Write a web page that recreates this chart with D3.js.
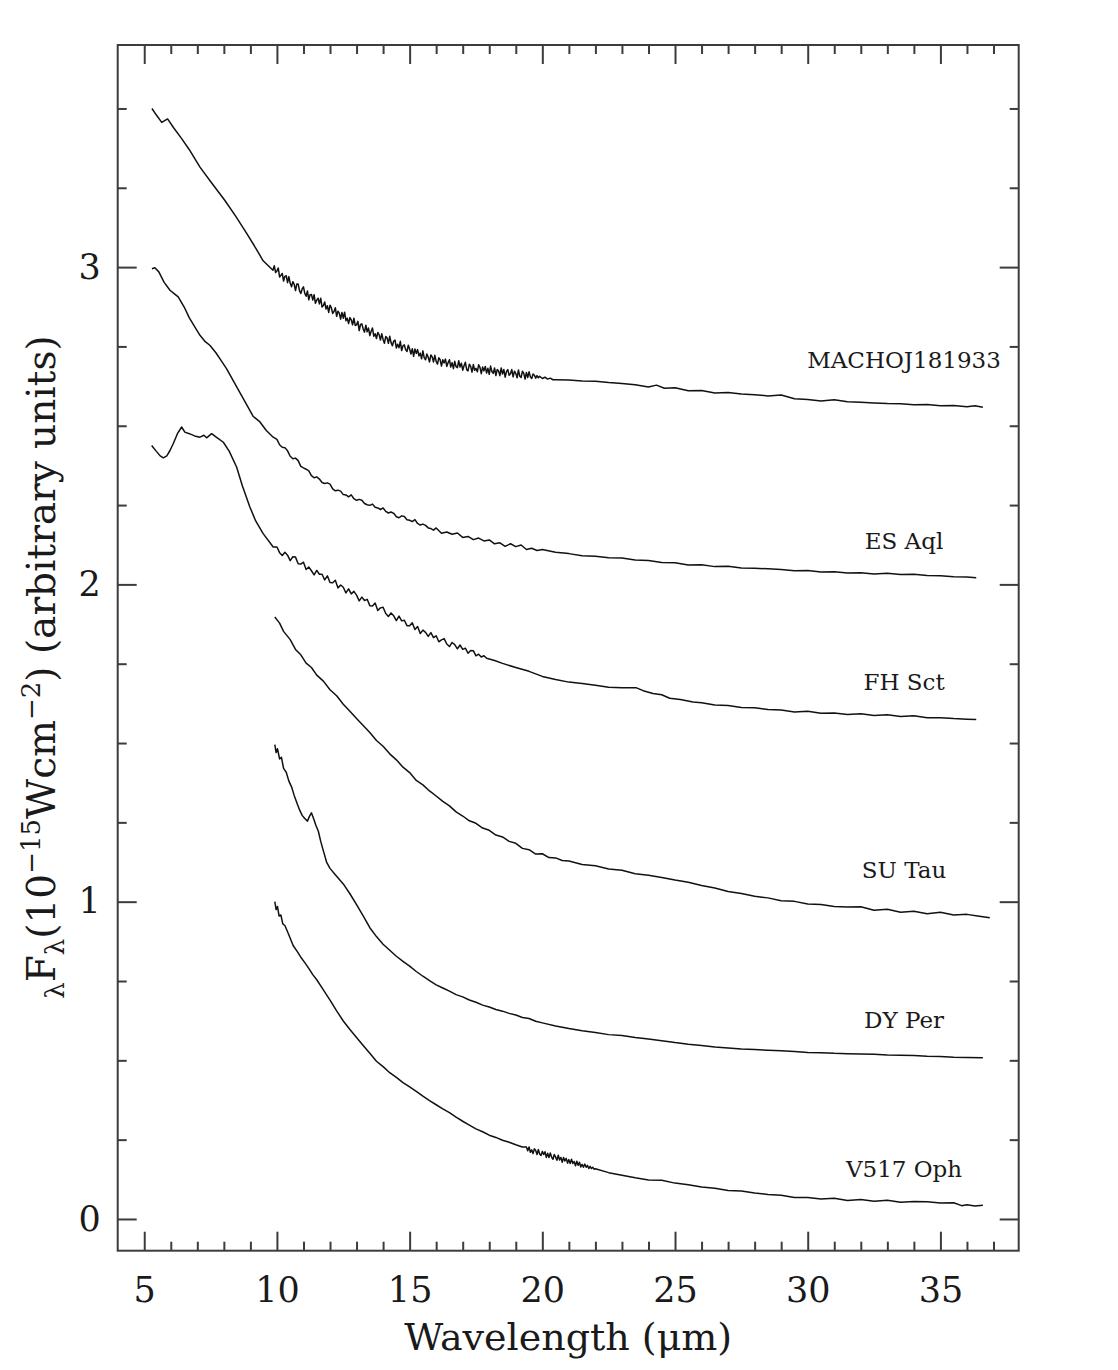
<!DOCTYPE html>
<html><head><meta charset="utf-8">
<script src="https://cdn.jsdelivr.net/npm/d3@7"></script>
<style>html,body{margin:0;padding:0;background:#fff;} svg{display:block;}</style>
</head><body>
<svg id="chart" width="1118" height="1370"></svg>
<script>
// ---------------- DATA ----------------
const seriesNames = ["MACHOJ181933", "ES Aql", "FH Sct", "SU Tau", "DY Per", "V517 Oph"];
// label anchor positions in data units [wavelength, flux]
const labelAnchors = [[33.63, 2.682], [33.63, 2.110], [33.63, 1.667], [33.63, 1.074], [33.63, 0.603], [33.63, 0.133]];

const xTickValues = [5, 10, 15, 20, 25, 30, 35];
const xTickLabels = ["5", "10", "15", "20", "25", "30", "35"];
const yTickValues = [0, 1, 2, 3];
const yTickLabels = ["0", "1", "2", "3"];

const machoData = [
[5.29,3.500],[5.45,3.480],[5.66,3.456],[5.88,3.467],[6.1,3.440],[6.41,3.405],[6.7,3.370],[7.1,3.315],[7.5,3.270],[8.04,3.210],[8.45,3.160],[8.86,3.106],[9.2,3.060],[9.48,3.020],[9.85,2.990],
[9.9,3.004],[9.95,2.983],[10.0,2.988],[10.05,2.997],[10.1,2.969],[10.15,2.974],[10.2,2.980],[10.25,2.956],[10.3,2.971],[10.35,2.973],
[10.4,2.951],[10.45,2.970],[10.5,2.949],[10.55,2.938],[10.6,2.954],[10.65,2.946],[10.7,2.926],[10.75,2.947],[10.8,2.947],[10.85,2.926],
[10.9,2.917],[10.95,2.931],[11.0,2.938],[11.05,2.917],[11.1,2.908],[11.15,2.925],[11.2,2.897],[11.25,2.913],[11.3,2.914],[11.35,2.896],
[11.4,2.913],[11.45,2.886],[11.5,2.896],[11.55,2.902],[11.6,2.884],[11.65,2.902],[11.7,2.874],[11.75,2.879],[11.8,2.890],[11.85,2.868],
[11.9,2.878],[11.95,2.857],[12.0,2.880],[12.05,2.872],[12.1,2.854],[12.15,2.860],[12.2,2.872],[12.25,2.845],[12.3,2.861],[12.35,2.855],
[12.4,2.836],[12.45,2.857],[12.5,2.839],[12.55,2.858],[12.6,2.831],[12.65,2.839],[12.7,2.822],[12.75,2.841],[12.8,2.834],[12.85,2.818],
[12.9,2.839],[12.95,2.816],[13.0,2.818],[13.05,2.829],[13.1,2.800],[13.15,2.819],[13.2,2.821],[13.25,2.805],[13.3,2.795],[13.35,2.817],
[13.4,2.796],[13.45,2.808],[13.5,2.784],[13.55,2.798],[13.6,2.808],[13.65,2.782],[13.7,2.790],[13.75,2.775],[13.8,2.794],[13.85,2.787],
[13.9,2.770],[13.95,2.790],[14.0,2.772],[14.05,2.760],[14.1,2.781],[14.15,2.777],[14.2,2.760],[14.25,2.782],[14.3,2.762],[14.35,2.752],
[14.4,2.767],[14.45,2.770],[14.5,2.745],[14.55,2.757],[14.6,2.746],[14.65,2.766],[14.7,2.737],[14.75,2.752],[14.8,2.755],[14.85,2.740],
[14.9,2.734],[14.95,2.754],[15.0,2.742],[15.05,2.726],[15.1,2.743],[15.15,2.719],[15.2,2.742],[15.25,2.728],[15.3,2.740],[15.35,2.720],
[15.4,2.729],[15.45,2.711],[15.5,2.736],[15.55,2.714],[15.6,2.708],[15.65,2.726],[15.7,2.716],[15.75,2.701],[15.8,2.723],[15.85,2.717],
[15.9,2.701],[15.95,2.722],[16.0,2.703],[16.05,2.694],[16.1,2.714],[16.15,2.708],[16.2,2.688],[16.25,2.708],[16.3,2.698],[16.35,2.710],
[16.4,2.687],[16.45,2.699],[16.5,2.708],[16.55,2.685],[16.6,2.699],[16.65,2.680],[16.7,2.703],[16.75,2.686],[16.8,2.683],[16.85,2.705],
[16.9,2.685],[16.95,2.697],[17.0,2.675],[17.05,2.689],[17.1,2.700],[17.15,2.677],[17.2,2.673],[17.25,2.694],[17.3,2.687],[17.35,2.669],
[17.4,2.693],[17.45,2.675],[17.5,2.681],[17.55,2.670],[17.6,2.692],[17.65,2.684],[17.7,2.664],[17.75,2.685],[17.8,2.673],[17.85,2.687],
[17.9,2.666],[17.95,2.681],[18.0,2.662],[18.05,2.688],[18.1,2.671],[18.15,2.665],[18.2,2.682],[18.25,2.658],[18.3,2.677],[18.35,2.673],
[18.4,2.658],[18.45,2.682],[18.5,2.663],[18.55,2.677],[18.6,2.653],[18.65,2.671],[18.7,2.677],[18.75,2.659],[18.8,2.664],[18.85,2.677],
[18.9,2.654],[18.95,2.672],[19.0,2.665],[19.05,2.651],[19.1,2.676],[19.15,2.656],[19.2,2.652],[19.25,2.672],[19.3,2.665],[19.35,2.647],
[19.4,2.668],[19.45,2.652],[19.5,2.670],[19.55,2.654],[19.6,2.649],[19.65,2.663],[19.7,2.659],[19.75,2.650],[19.8,2.658],[19.85,2.651],
[19.9,2.656],[20.0,2.649],[20.1,2.653],[20.2,2.647],[20.3,2.650],[20.4,2.645],[20.5,2.645],
[21.0,2.644],[21.5,2.641],[22.0,2.640],[22.5,2.636],[23.0,2.633],[23.5,2.629],[24.0,2.622],[24.3,2.628],[24.6,2.618],[25.0,2.620],[25.5,2.610],[26.0,2.611],[26.5,2.603],[27.0,2.605],[27.5,2.600],[28.0,2.598],[28.5,2.594],[29.0,2.597],[29.5,2.585],[30.0,2.583],
[30.5,2.578],[31.0,2.582],[31.5,2.576],[32.0,2.574],[32.5,2.572],[33.0,2.570],[33.5,2.569],[34.0,2.566],[34.5,2.567],[35.0,2.563],[35.5,2.564],[36.0,2.560],[36.3,2.563],[36.6,2.558]
];

const esAqlData = [
[5.29,2.995],[5.4,2.998],[5.55,2.985],[5.75,2.952],[5.97,2.927],[6.15,2.915],[6.28,2.906],[6.5,2.875],[6.7,2.840],[6.91,2.811],[7.1,2.785],[7.3,2.765],[7.48,2.753],[7.7,2.730],[7.9,2.705],[8.1,2.680],[8.3,2.650],[8.5,2.620],[8.7,2.590],[8.9,2.560],[9.1,2.530],[9.36,2.512],[9.6,2.485],[9.86,2.464],
[10.0,2.457],[10.1,2.440],[10.2,2.432],[10.3,2.431],[10.4,2.421],[10.5,2.404],[10.6,2.396],[10.7,2.398],[10.8,2.390],[10.9,2.372],[11.0,2.367],[11.1,2.363],[11.2,2.358],[11.3,2.343],[11.4,2.336],[11.5,2.339],[11.6,2.332],[11.7,2.321],[11.8,2.318],[11.9,2.320],
[12.0,2.316],[12.1,2.301],[12.2,2.295],[12.3,2.297],[12.4,2.294],[12.5,2.283],[12.6,2.282],[12.7,2.276],[12.8,2.282],[12.9,2.270],[13.0,2.265],[13.1,2.268],[13.2,2.265],[13.3,2.255],[13.4,2.251],[13.5,2.249],[13.6,2.253],[13.7,2.243],[13.8,2.241],[13.9,2.236],
[14.0,2.241],[14.1,2.230],[14.2,2.225],[14.3,2.228],[14.4,2.224],[14.5,2.213],[14.6,2.210],[14.7,2.216],[14.8,2.214],[14.9,2.204],[15.0,2.202],[15.1,2.198],[15.2,2.204],[15.3,2.192],[15.4,2.187],[15.5,2.190],[15.6,2.186],[15.7,2.178],[15.8,2.176],[15.9,2.171],
[16.0,2.178],[16.2,2.161],[16.4,2.165],[16.6,2.158],[16.8,2.162],[17.0,2.148],[17.2,2.151],[17.4,2.141],[17.6,2.146],[17.8,2.137],
[18.0,2.140],[18.2,2.128],[18.4,2.131],[18.6,2.120],[18.8,2.128],[19.0,2.119],[19.2,2.124],[19.4,2.110],[19.6,2.114],[19.8,2.107],[20.0,2.110],
[20.5,2.101],[21.0,2.097],[21.5,2.090],[22.0,2.089],[22.5,2.084],[23.0,2.083],[23.5,2.077],[24.0,2.075],[24.5,2.069],[25.0,2.068],[25.5,2.061],[26.0,2.062],[26.5,2.056],[27.0,2.057],[27.5,2.052],[28.0,2.051],[28.5,2.049],[29.0,2.047],[29.5,2.043],[30.0,2.044],
[30.5,2.039],[31.0,2.040],[31.5,2.036],[32.0,2.037],[32.5,2.033],[33.0,2.035],[33.5,2.031],[34.0,2.032],[34.5,2.028],[35.0,2.027],[35.5,2.024],[36.0,2.023],[36.35,2.021]
];

const fhSctData = [
[5.28,2.438],[5.45,2.420],[5.6,2.405],[5.72,2.399],[5.85,2.405],[5.97,2.422],[6.1,2.445],[6.25,2.475],[6.41,2.496],[6.53,2.480],[6.7,2.475],[6.9,2.468],[7.1,2.464],[7.25,2.470],[7.35,2.462],[7.54,2.475],[7.7,2.465],[7.98,2.448],[8.2,2.420],[8.48,2.370],[8.7,2.310],[8.98,2.244],[9.2,2.200],[9.48,2.160],[9.86,2.118],
[10.0,2.118],[10.1,2.100],[10.2,2.091],[10.3,2.101],[10.4,2.092],[10.5,2.075],[10.6,2.087],[10.7,2.086],[10.8,2.065],[10.9,2.064],[11.0,2.070],[11.1,2.047],[11.2,2.055],[11.3,2.043],[11.4,2.030],[11.5,2.044],[11.6,2.032],[11.7,2.032],[11.8,2.014],[11.9,2.027],
[12.0,2.006],[12.1,2.005],[12.2,2.013],[12.3,1.989],[12.4,1.998],[12.5,1.991],[12.6,1.973],[12.7,1.986],[12.8,1.970],[12.9,1.978],[13.0,1.966],[13.1,1.948],[13.2,1.960],[13.3,1.949],[13.4,1.953],[13.5,1.933],[13.6,1.932],[13.7,1.941],[13.8,1.918],[13.9,1.926],
[14.0,1.928],[14.1,1.908],[14.2,1.899],[14.3,1.910],[14.4,1.901],[14.5,1.886],[14.6,1.900],[14.7,1.885],[14.8,1.887],[14.9,1.870],[15.0,1.870],[15.1,1.879],[15.2,1.858],[15.3,1.867],[15.4,1.845],[15.5,1.856],[15.6,1.849],[15.7,1.836],[15.8,1.848],[15.9,1.832],
[16.0,1.838],[16.1,1.819],[16.2,1.825],[16.3,1.829],[16.4,1.812],[16.5,1.804],[16.6,1.817],[16.7,1.810],[16.8,1.797],[16.9,1.809],[17.0,1.795],[17.1,1.799],[17.2,1.783],[17.3,1.792],[17.4,1.791],[17.5,1.775],[17.6,1.780],[17.7,1.771],[17.8,1.775],[17.9,1.767],
[18.2,1.760],[18.5,1.751],[19.0,1.738],[19.5,1.726],[20.0,1.710],[20.5,1.700],[21.0,1.692],[21.5,1.688],[22.0,1.682],[22.5,1.676],[23.0,1.674],[23.55,1.674],[23.8,1.665],[24.17,1.656],[24.5,1.652],[24.8,1.641],[25.2,1.637],[25.68,1.629],[26.0,1.627],[26.5,1.620],[27.0,1.618],
[27.5,1.612],[28.0,1.611],[28.5,1.606],[29.0,1.604],[29.5,1.598],[30.0,1.600],[30.5,1.594],[31.0,1.595],[31.5,1.590],[32.0,1.592],[32.5,1.587],[33.0,1.589],[33.5,1.584],[34.0,1.586],[34.5,1.580],[35.0,1.580],[35.5,1.577],[36.0,1.575],[36.35,1.574]
];

const suTauData = [
[9.92,1.897],[10.1,1.878],[10.25,1.852],[10.5,1.826],[10.7,1.795],[10.9,1.778],[11.1,1.752],[11.3,1.738],[11.5,1.714],[11.75,1.695],[12.0,1.668],[12.25,1.649],[12.5,1.622],[12.75,1.600],[13.0,1.577],[13.25,1.555],[13.5,1.533],[13.75,1.508],[14.0,1.490],[14.25,1.466],
[14.5,1.447],[14.75,1.424],[15.0,1.407],[15.25,1.382],[15.5,1.368],[15.75,1.349],[16.0,1.333],[16.25,1.316],[16.5,1.302],[16.75,1.283],[17.0,1.270],[17.25,1.255],[17.5,1.247],[17.75,1.232],[18.0,1.225],[18.25,1.210],[18.5,1.204],[18.75,1.190],[19.0,1.184],[19.25,1.168],
[19.5,1.164],[19.75,1.150],[20.0,1.151],[20.25,1.139],[20.5,1.138],[20.75,1.130],[21.0,1.128],[21.5,1.117],[22.0,1.113],[22.5,1.103],[23.0,1.099],[23.5,1.088],[24.0,1.083],[24.5,1.076],[25.0,1.068],[25.5,1.061],[26.0,1.051],[26.5,1.043],[27.0,1.032],[27.5,1.026],
[28.0,1.017],[28.5,1.012],[29.0,1.003],[29.5,1.001],[30.0,0.993],[30.5,0.991],[31.0,0.985],[31.5,0.983],[32.0,0.984],[32.5,0.973],[33.0,0.976],[33.5,0.967],[34.0,0.970],[34.5,0.962],[35.0,0.967],[35.5,0.958],[36.0,0.960],[36.4,0.955],[36.86,0.949]
];

const dyPerData = [
[9.92,1.495],[9.97,1.470],[10.02,1.482],[10.1,1.450],[10.17,1.455],[10.25,1.420],[10.35,1.408],[10.45,1.380],[10.55,1.362],[10.65,1.335],[10.75,1.312],[10.85,1.290],[10.95,1.272],[11.05,1.262],[11.15,1.254],[11.22,1.268],[11.3,1.280],[11.38,1.262],[11.47,1.240],[11.56,1.222],
[11.65,1.190],[11.75,1.160],[11.87,1.125],[12.0,1.105],[12.2,1.085],[12.5,1.056],[12.75,1.025],[13.0,0.991],[13.25,0.955],[13.5,0.918],[13.75,0.890],[14.0,0.866],[14.25,0.847],[14.5,0.828],[14.75,0.812],[15.0,0.797],[15.25,0.780],[15.5,0.765],[15.75,0.751],[16.0,0.738],
[16.25,0.728],[16.5,0.718],[16.75,0.707],[17.0,0.700],[17.25,0.690],[17.5,0.683],[17.75,0.674],[18.0,0.668],[18.25,0.660],[18.5,0.655],[18.75,0.648],[19.0,0.643],[19.25,0.635],[19.5,0.632],[19.75,0.623],[20.0,0.618],[20.5,0.608],[21.0,0.600],[21.5,0.593],[22.0,0.588],
[22.5,0.581],[23.0,0.578],[23.5,0.572],[24.0,0.567],[24.5,0.562],[25.0,0.556],[25.5,0.551],[26.0,0.547],[26.5,0.542],[27.0,0.539],[27.5,0.536],[28.0,0.534],[28.5,0.532],[29.0,0.530],[29.5,0.528],[30.0,0.525],[30.5,0.524],[31.0,0.522],[31.5,0.521],[32.0,0.520],
[32.5,0.519],[33.0,0.517],[33.5,0.516],[34.0,0.515],[34.5,0.513],[35.0,0.512],[35.5,0.510],[36.0,0.509],[36.6,0.508]
];

const v517Data = [
[9.92,1.000],[9.97,0.975],[10.02,0.985],[10.08,0.955],[10.15,0.958],[10.22,0.930],[10.3,0.925],[10.4,0.905],[10.5,0.885],[10.61,0.862],[10.75,0.845],[10.9,0.825],[11.05,0.808],[11.2,0.790],[11.35,0.770],[11.5,0.754],[11.75,0.722],[12.0,0.690],[12.25,0.656],[12.5,0.624],
[12.75,0.597],[13.0,0.572],[13.25,0.547],[13.5,0.522],[13.75,0.497],[14.0,0.480],[14.25,0.461],[14.5,0.446],[14.75,0.430],[15.0,0.416],[15.25,0.402],[15.5,0.387],[15.75,0.373],[16.0,0.360],[16.25,0.347],[16.5,0.335],[16.75,0.321],[17.0,0.308],[17.25,0.296],[17.5,0.284],
[17.75,0.275],[18.0,0.264],[18.25,0.257],[18.5,0.248],[18.75,0.242],[19.0,0.234],[19.25,0.227],
[19.4,0.227],[19.45,0.215],[19.5,0.227],[19.55,0.210],[19.6,0.218],[19.65,0.206],[19.7,0.221],[19.75,0.216],[19.8,0.203],[19.85,0.219],[19.9,0.205],[19.95,0.200],[20.0,0.213],[20.05,0.203],[20.1,0.212],[20.15,0.194],[20.2,0.207],[20.25,0.194],[20.3,0.208],[20.35,0.195],
[20.4,0.188],[20.45,0.203],[20.5,0.195],[20.55,0.185],[20.6,0.201],[20.65,0.186],[20.7,0.194],[20.75,0.179],[20.8,0.194],[20.85,0.183],[20.9,0.191],[20.95,0.176],[21.0,0.187],[21.05,0.175],[21.1,0.188],[21.15,0.175],[21.2,0.181],[21.25,0.168],[21.3,0.182],[21.35,0.169],
[21.4,0.179],[21.45,0.164],[21.5,0.172],[21.55,0.163],[21.6,0.173],[21.65,0.163],[21.7,0.169],[21.75,0.159],[21.8,0.166],[21.85,0.159],[21.9,0.163],[21.95,0.157],[22.0,0.158],
[22.5,0.146],[23.0,0.138],[23.5,0.130],[24.0,0.123],[24.5,0.122],[25.0,0.113],[25.5,0.108],[26.0,0.101],[26.5,0.097],[27.0,0.090],[27.5,0.088],[28.0,0.082],[28.5,0.077],[29.0,0.075],[29.5,0.068],[30.0,0.068],[30.5,0.063],[31.0,0.065],[31.5,0.058],[32.0,0.061],
[32.5,0.056],[33.0,0.059],[33.5,0.053],[34.0,0.055],[34.5,0.054],[35.0,0.050],[35.5,0.051],[35.8,0.042],[36.0,0.045],[36.3,0.041],[36.6,0.043]
];

const seriesData = [machoData, esAqlData, fhSctData, suTauData, dyPerData, v517Data];

// ---------------- DRAWING ----------------
(function () {
const pL = 117.7, pR = 1018.7, pT = 45, pB = 1250.7;
const x = d3.scaleLinear().domain([4, 37.95]).range([pL, pR]);
const y = d3.scaleLinear().domain([-0.1, 3.7]).range([pB, pT]);
const xMinor = d3.range(5, 38, 1).filter(v => xTickValues.indexOf(v) < 0);
const yMinor = d3.range(0, 3.7, 0.25).filter(v => Math.abs(v - Math.round(v)) > 1e-6);

const svg = d3.select('#chart');
const axisColor = '#3c3c3c';
const textColor = '#1a1a1a';
const serif = "'DejaVu Serif', serif";

function styleAxis(g) {
  g.select('.domain').remove();
  g.selectAll('line').attr('stroke', axisColor).attr('stroke-width', 2);
  g.selectAll('text').attr('font-family', serif).attr('font-size', 35).attr('fill', textColor);
}

// bottom
svg.append('g').attr('transform', `translate(0,${pB})`)
  .call(d3.axisBottom(x).tickValues(xMinor).tickSize(-9).tickFormat('')).call(styleAxis);
svg.append('g').attr('transform', `translate(0,${pB})`)
  .call(d3.axisBottom(x).tickValues(xTickValues).tickSize(-19).tickPadding(26)
    .tickFormat((d, i) => xTickLabels[i])).call(styleAxis);
// top
svg.append('g').attr('transform', `translate(0,${pT})`)
  .call(d3.axisTop(x).tickValues(xMinor).tickSize(-9).tickFormat('')).call(styleAxis);
svg.append('g').attr('transform', `translate(0,${pT})`)
  .call(d3.axisTop(x).tickValues(xTickValues).tickSize(-19).tickFormat('')).call(styleAxis);
// left
svg.append('g').attr('transform', `translate(${pL},0)`)
  .call(d3.axisLeft(y).tickValues(yMinor).tickSize(-9).tickFormat('')).call(styleAxis);
svg.append('g').attr('transform', `translate(${pL},0)`)
  .call(d3.axisLeft(y).tickValues(yTickValues).tickSize(-19).tickPadding(17)
    .tickFormat((d, i) => yTickLabels[i])).call(styleAxis);
// right
svg.append('g').attr('transform', `translate(${pR},0)`)
  .call(d3.axisRight(y).tickValues(yMinor).tickSize(-9).tickFormat('')).call(styleAxis);
svg.append('g').attr('transform', `translate(${pR},0)`)
  .call(d3.axisRight(y).tickValues(yTickValues).tickSize(-19).tickFormat('')).call(styleAxis);

// frame
svg.append('rect').attr('x', pL).attr('y', pT)
  .attr('width', pR - pL).attr('height', pB - pT)
  .attr('fill', 'none').attr('stroke', axisColor).attr('stroke-width', 2);

// spectra
const line = d3.line().x(d => x(d[0])).y(d => y(d[1]));
svg.append('g').selectAll('path').data(seriesData).join('path')
  .attr('d', line).attr('fill', 'none').attr('stroke', '#111')
  .attr('stroke-width', 1.5).attr('stroke-linejoin', 'round');

// series labels
svg.append('g').selectAll('text').data(seriesNames).join('text')
  .attr('x', (d, i) => x(labelAnchors[i][0]))
  .attr('y', (d, i) => y(labelAnchors[i][1]))
  .attr('text-anchor', 'middle').attr('font-family', serif)
  .attr('font-size', 23).attr('fill', textColor).text(d => d);

// x title
svg.append('text').attr('x', (pL + pR) / 2).attr('y', 1350)
  .attr('text-anchor', 'middle').attr('font-family', serif).attr('font-size', 38)
  .attr('fill', textColor).text('Wavelength (\u03bcm)');

// y title
const yParts = [
  {t: '\u03bb', s: 26, dy: 9},
  {t: 'F', s: 39, dy: -9},
  {t: '\u03bb', s: 26, dy: 9},
  {t: '(10', s: 39, dy: -9},
  {t: '\u221215', s: 26, dy: -15},
  {t: 'Wcm', s: 39, dy: 15},
  {t: '\u22122', s: 26, dy: -15},
  {t: ') (arbitrary units)', s: 39, dy: 15}
];
const yt = svg.append('text').attr('transform', 'translate(55,667) rotate(-90)')
  .attr('text-anchor', 'middle').attr('font-family', serif).attr('fill', textColor);
yParts.forEach(p => yt.append('tspan').attr('font-size', p.s).attr('dy', p.dy).text(p.t));
})();
</script>
</body></html>
